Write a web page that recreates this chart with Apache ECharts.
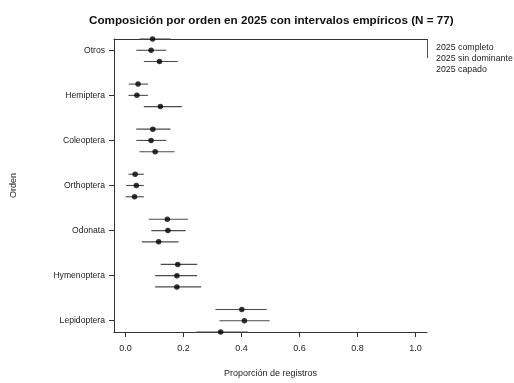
<!DOCTYPE html>
<html>
<head>
<meta charset="utf-8">
<script src="https://cdn.jsdelivr.net/npm/echarts@6/dist/echarts.min.js"></script>
<style>
  html, body { margin: 0; padding: 0; background: #ffffff; }
  #chart { width: 514px; height: 383px; }
</style>
</head>
<body>
<div id="chart"></div>
<script>
// Orders, top to bottom
const categories = ['Otros', 'Hemiptera', 'Coleoptera', 'Orthoptera', 'Odonata', 'Hymenoptera', 'Lepidoptera'];

// 2025 completo: estimate and empirical interval
const completo   = [0.093, 0.043, 0.094, 0.033, 0.144, 0.180, 0.401];
const completoLo = [0.048, 0.011, 0.037, 0.010, 0.080, 0.121, 0.310];
const completoHi = [0.155, 0.077, 0.155, 0.063, 0.215, 0.247, 0.487];

// 2025 sin dominante
const sinDom   = [0.088, 0.039, 0.088, 0.037, 0.146, 0.177, 0.410];
const sinDomLo = [0.037, 0.010, 0.037, 0.002, 0.089, 0.102, 0.324];
const sinDomHi = [0.140, 0.077, 0.140, 0.063, 0.207, 0.247, 0.497];

// 2025 capado
const capado   = [0.117, 0.120, 0.102, 0.031, 0.114, 0.177, 0.328];
const capadoLo = [0.063, 0.063, 0.048, 0.000, 0.056, 0.102, 0.244];
const capadoHi = [0.180, 0.194, 0.169, 0.063, 0.183, 0.261, 0.422];

const xTicks = [0, 0.2, 0.4, 0.6, 0.8, 1.0];
const seriesNames = ['2025 completo', '2025 sin dominante', '2025 capado'];

const groups = [
  { est: completo, lo: completoLo, hi: completoHi, offset: -0.25 },
  { est: sinDom,   lo: sinDomLo,   hi: sinDomHi,   offset: 0 },
  { est: capado,   lo: capadoLo,   hi: capadoHi,   offset: 0.25 }
];

const FONT = 'Liberation Sans, Arial, sans-serif';
const INK = '#222';

const series = [];
groups.forEach((g, s) => {
  const intervals = categories.map((c, i) => [g.lo[i], g.hi[i], i + 1 + g.offset]);
  const points = categories.map((c, i) => [g.est[i], i + 1 + g.offset]);
  series.push({
    name: seriesNames[s] + ' IC',
    type: 'custom',
    silent: true,
    clip: false,
    data: intervals,
    encode: { x: [0, 1], y: 2 },
    renderItem: function (params, api) {
      const a = api.coord([api.value(0), api.value(2)]);
      const b = api.coord([api.value(1), api.value(2)]);
      return {
        type: 'line',
        shape: { x1: a[0], y1: a[1], x2: b[0], y2: b[1] },
        style: { stroke: '#4a4a4a', lineWidth: 1.1 }
      };
    },
    z: 2
  });
  series.push({
    name: seriesNames[s],
    type: 'scatter',
    clip: false,
    data: points,
    symbol: 'circle',
    symbolSize: 5.5,
    itemStyle: { color: '#000' },
    z: 3
  });
});

const chart = echarts.init(document.getElementById('chart'), null, { renderer: 'canvas' });
chart.setOption({
  animation: false,
  backgroundColor: '#ffffff',
  title: {
    text: 'Composición por orden en 2025 con intervalos empíricos (N = 77)',
    left: 84,
    top: 10,
    textStyle: { fontFamily: FONT, fontSize: 11.7, fontWeight: 'bold', color: '#111' }
  },
  grid: { left: 114, right: 87, top: 39, bottom: 51, containLabel: false },
  xAxis: [{
    type: 'value',
    position: 'bottom',
    min: -0.04,
    max: 1.04,
    name: 'Proporción de registros',
    nameLocation: 'middle',
    nameGap: 37,
    nameTextStyle: { fontFamily: FONT, fontSize: 9, color: INK },
    axisLine: { show: true, onZero: false, lineStyle: { color: '#333', width: 1 } },
    axisTick: { show: true, length: 5, customValues: xTicks, lineStyle: { color: '#333' } },
    axisLabel: {
      customValues: xTicks,
      formatter: v => v.toFixed(1),
      fontFamily: FONT, fontSize: 9, color: INK, margin: 12
    },
    splitLine: { show: false }
  }, {
    type: 'value',
    position: 'top',
    min: -0.04,
    max: 1.04,
    axisLine: { show: true, onZero: false, lineStyle: { color: '#333', width: 1 } },
    axisTick: { show: false },
    axisLabel: { show: false },
    splitLine: { show: false }
  }],
  yAxis: {
    type: 'value',
    position: 'left',
    inverse: true,
    min: 0.75,
    max: 7.25,
    name: 'Orden',
    nameLocation: 'middle',
    nameGap: 96,
    nameRotate: 90,
    nameTextStyle: { fontFamily: FONT, fontSize: 9, color: INK },
    axisLine: { show: true, onZero: false, lineStyle: { color: '#333', width: 1 } },
    axisTick: { show: true, length: 5, customValues: [1, 2, 3, 4, 5, 6, 7], lineStyle: { color: '#333' } },
    axisLabel: {
      customValues: [1, 2, 3, 4, 5, 6, 7],
      formatter: v => categories[Math.round(v) - 1],
      fontFamily: FONT, fontSize: 8.6, color: INK, margin: 9
    },
    splitLine: { show: false }
  },
  graphic: [
    {
      type: 'line',
      shape: { x1: 427.5, y1: 39, x2: 427.5, y2: 58 },
      style: { stroke: '#555', lineWidth: 1 }
    },
    {
      type: 'group',
      left: 436,
      top: 43,
      children: seriesNames.map((n, i) => ({
        type: 'text',
        x: 0,
        y: i * 11,
        style: { text: n, fontFamily: FONT, fontSize: 8.8, fill: INK }
      }))
    }
  ],
  series: series
});
</script>
</body>
</html>
